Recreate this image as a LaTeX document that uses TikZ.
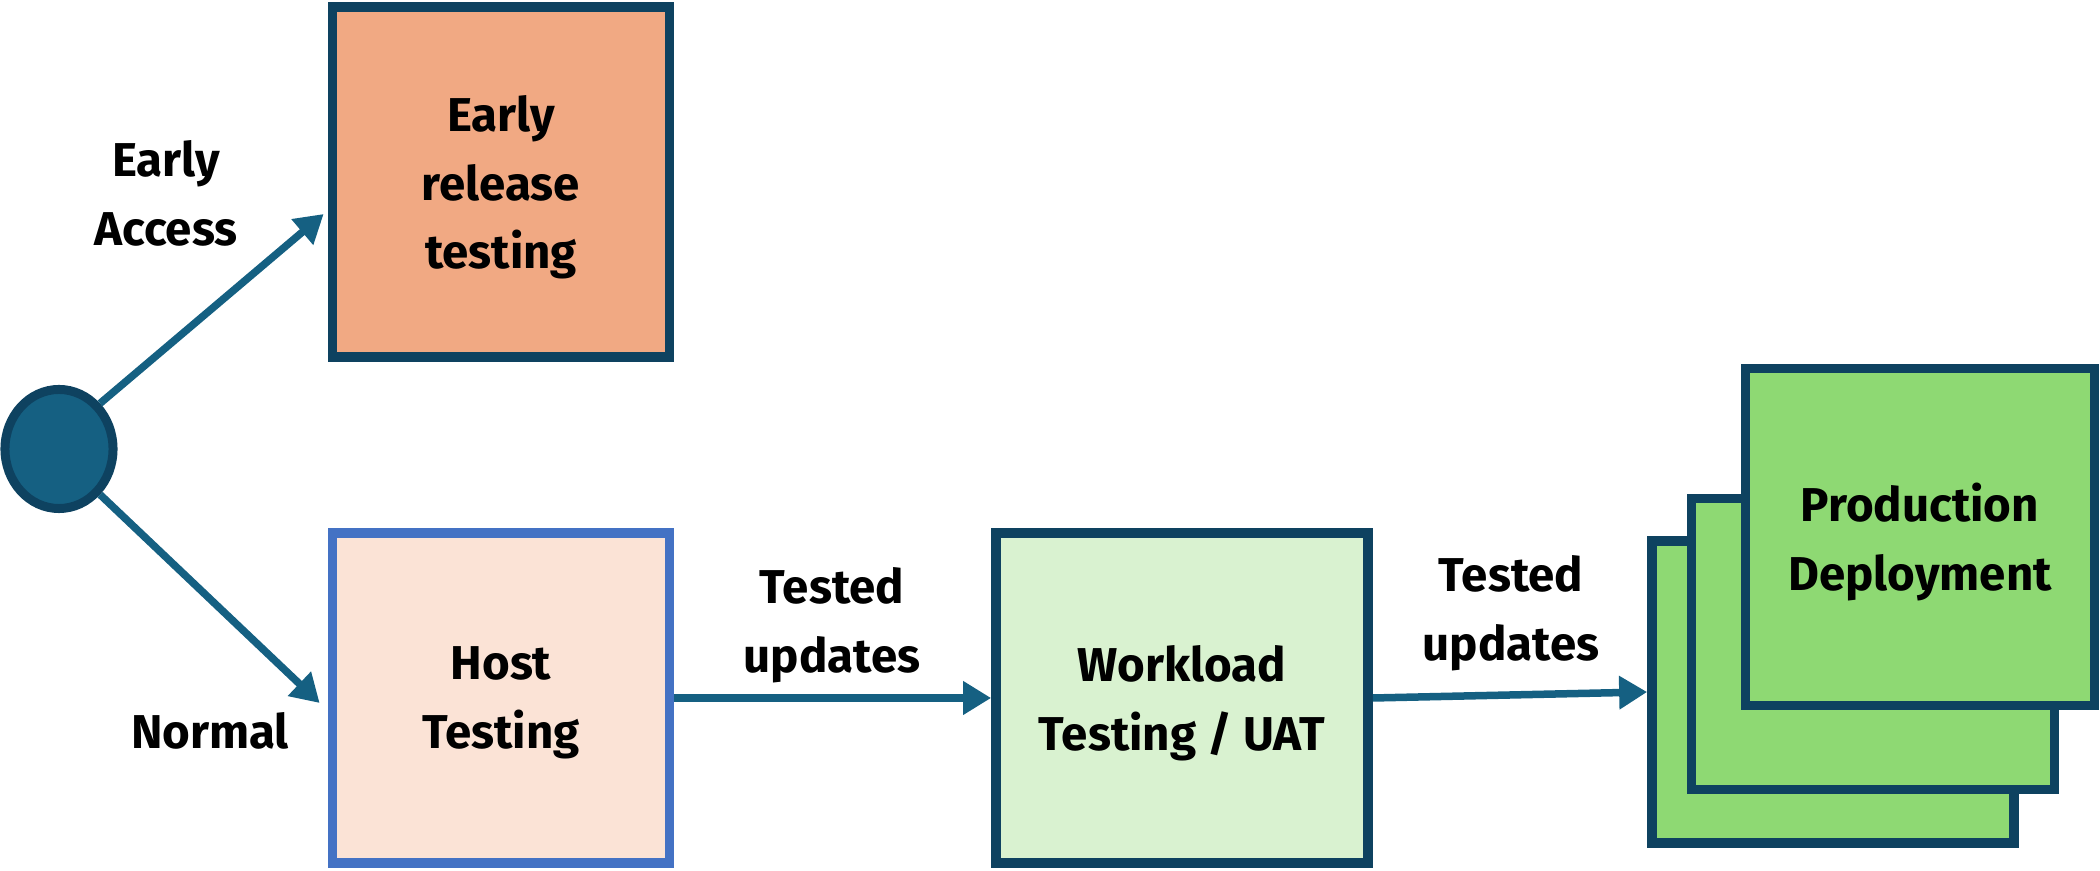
\documentclass[tikz,border=0pt]{standalone}
\usepackage{fontspec}
\setmainfont{Fira Sans}
\usepackage{tikz}
\usetikzlibrary{arrows.meta,shapes.geometric}
\usepackage{xcolor}
\definecolor{DeepTeal}{HTML}{0E4260}
\definecolor{FlowBlue}{HTML}{156082}
\definecolor{Salmon}{HTML}{F1A983}
\definecolor{PaleSalmon}{HTML}{FBE3D6}
\definecolor{HostBlue}{HTML}{4472C4}
\definecolor{PaleMint}{HTML}{D9F2D0}
\definecolor{LeafGreen}{HTML}{8ED973}

\begin{document}
\begin{tikzpicture}[x=0.01cm,y=-0.01cm,>={Triangle[length=2.8mm,width=3.2mm]},
  every node/.style={font=\fontsize{13.5pt}{19.6pt}\selectfont\bfseries,align=center},
  stage/.style={draw=DeepTeal,line width=0.95mm,inner sep=0pt,text depth=-1.5pt},
  flow/.style={->,draw=FlowBlue,line width=0.75mm}]
\useasboundingbox (0,0) rectangle (2100,871);

% start point
\node[ellipse,draw=DeepTeal,fill=FlowBlue,line width=0.9mm,inner sep=0pt,text depth=0pt,
      minimum width=1.08cm,minimum height=1.19cm] (src) at (59,449) {};

% stages
\node[stage,fill=Salmon,minimum width=3.37cm,minimum height=3.50cm]
      (early) at (501,182) {Early\\release\\testing};
\node[stage,draw=HostBlue,fill=PaleSalmon,minimum width=3.37cm,minimum height=3.30cm]
      (host) at (501,698) {Host\\Testing};
\node[stage,fill=PaleMint,minimum width=3.72cm,minimum height=3.30cm]
      (uat) at (1182,698) {Workload\\Testing / UAT};

% production stack, back to front
\node[stage,fill=LeafGreen,minimum width=3.62cm,minimum height=3.02cm] (prodback) at (1833,692) {};
\node[stage,fill=LeafGreen,minimum width=3.63cm,minimum height=2.91cm] (prodmid) at (1873,644) {};
\node[stage,fill=LeafGreen,minimum width=3.49cm,minimum height=3.37cm,text depth=-2.5pt]
      (prod) at (1920,537) {Production\\Deployment};

% labels
\node (ealabel) at (166,193) {Early\\Access};
\node (normlabel) at (210,731) {Normal};
\node (tested1) at (832,625) {Tested\\updates};
\node (tested2) at (1511,613) {Tested\\updates};

% connectors
\draw[flow] (src.48) -- ([xshift=-0.4mm,yshift=-3.2mm]early.west);
\draw[flow] (src.-48) -- ([xshift=-0.8mm,yshift=-0.5mm]host.west);
\draw[flow] (host.east) -- (uat.west);
\draw[flow] (uat.east) -- (prodback.west);
\end{tikzpicture}
\end{document}
